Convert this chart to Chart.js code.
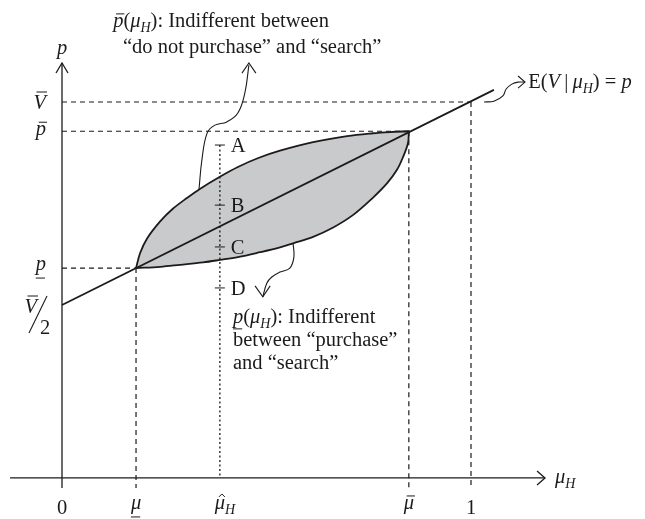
<!DOCTYPE html>
<html>
<head>
<meta charset="utf-8">
<script src="https://cdn.jsdelivr.net/npm/chart.js@4.4.1/dist/chart.umd.min.js"></script>
<style>
  body { margin: 0; background: #fff; }
  canvas { display: block; }
</style>
</head>
<body>
<canvas id="chart" width="645" height="519"></canvas>
<script>
// Points (x = mu_H, y = p, with V-bar = 1)
const upperMu = [0.181, 0.191, 0.208, 0.240, 0.271, 0.306, 0.337, 0.386, 0.430, 0.480, 0.533, 0.614, 0.697, 0.760, 0.802, 0.848];
const upperP  = [0.591, 0.628, 0.664, 0.706, 0.737, 0.764, 0.786, 0.816, 0.840, 0.862, 0.880, 0.901, 0.916, 0.923, 0.926, 0.928];
const lowerMu = [0.181, 0.240, 0.289, 0.345, 0.386, 0.430, 0.484, 0.533, 0.565, 0.614, 0.663, 0.712, 0.760, 0.795, 0.819, 0.834, 0.846, 0.848];
const lowerP  = [0.591, 0.594, 0.599, 0.605, 0.611, 0.618, 0.630, 0.642, 0.652, 0.668, 0.691, 0.722, 0.764, 0.800, 0.833, 0.865, 0.899, 0.928];
const eLineMu = [0, 1.056];
const eLineP  = [0.5, 1.030];

const muLow = 0.181, muHat = 0.386, muBar = 0.848, muOne = 1;
const pLow = 0.591, pBar = 0.928, vBar = 1.0, vHalf = 0.5;
const muAxisMin = -0.127, muAxisMax = 1.181, pAxis = 0.074, pAxisTop = 1.096, pGuideBottom = 0.049;

const markLabels = ['A', 'B', 'C', 'D'];
const markP = [0.894, 0.746, 0.643, 0.542];

// callout squiggles and their arrow heads
const upCalloutMu = [0.335, 0.342, 0.355, 0.374, 0.403, 0.430, 0.447, 0.457];
const upCalloutP  = [0.785, 0.857, 0.924, 0.943, 0.951, 0.973, 1.022, 1.091];
const upArrowMu = [0.440, 0.457, 0.474];
const upArrowP  = [1.071, 1.096, 1.071];
const lowCalloutMu = [0.565, 0.567, 0.557, 0.533, 0.513, 0.501, 0.491];
const lowCalloutP  = [0.652, 0.618, 0.591, 0.581, 0.569, 0.554, 0.520];
const lowArrowMu = [0.472, 0.491, 0.509];
const lowArrowP  = [0.547, 0.520, 0.547];
const eCalloutMu = [1.032, 1.056, 1.078, 1.086, 1.100, 1.115, 1.132];
const eCalloutP  = [1.000, 1.002, 1.015, 1.032, 1.044, 1.049, 1.049];
const eArrowMu = [1.115, 1.132, 1.115];
const eArrowP  = [1.064, 1.049, 1.034];

const INK = '#1d1a1b';
const SHADE = '#c9cacc';
const FONT = '"Liberation Serif", "Times New Roman", serif';
const SIZE = 20.5, SUB = 14;

const pts = (mus, ps) => mus.map((m, i) => ({ x: m, y: ps[i] }));
const seg = (ax, ay, bx, by) => [{ x: ax, y: ay }, { x: bx, y: by }];

function stroke(data, extra) {
    return Object.assign({
        data: data, showLine: true, pointRadius: 0, borderColor: INK,
        borderWidth: 1.2, fill: false, tension: 0, clip: false
    }, extra || {});
}

const dash = { borderDash: [5, 4], borderWidth: 1.2 };
const lens = pts(upperMu, upperP).concat(pts(lowerMu, lowerP).reverse());

// small rich-text helper: italic, subscripts, bars, underlines, hats
function drawRich(ctx, px, py, runs, align) {
    const fontOf = r => (r.it ? 'italic ' : '') + (r.sub ? SUB : SIZE) + 'px ' + FONT;
    let total = 0;
    runs.forEach(r => { ctx.font = fontOf(r); r.w = ctx.measureText(r.t).width; total += r.w; });
    let cx = align === 'right' ? px - total : align === 'center' ? px - total / 2 : px;
    runs.forEach(r => {
        ctx.font = fontOf(r);
        const by = py + (r.sub ? 5 : 0);
        ctx.fillText(r.t, cx, by);
        const sh = r.it ? 2 : 0;
        ctx.beginPath();
        if (r.bar) { ctx.moveTo(cx + sh + 1, by - r.bar); ctx.lineTo(cx + r.w + sh - 1, by - r.bar); }
        if (r.under) { ctx.moveTo(cx, by + r.under); ctx.lineTo(cx + r.w - 1, by + r.under); }
        if (r.hat) {
            const m = cx + r.w / 2 + sh;
            ctx.moveTo(m - 3, by - r.hat + 3); ctx.lineTo(m, by - r.hat); ctx.lineTo(m + 3, by - r.hat + 3);
        }
        ctx.stroke();
        cx += r.w;
    });
}

const overlay = {
    id: 'overlay',
    afterDatasetsDraw(chart) {
        const { ctx, scales: { x, y } } = chart;
        const X = v => x.getPixelForValue(v);
        const Y = v => y.getPixelForValue(v);
        ctx.save();
        ctx.fillStyle = INK;
        ctx.strokeStyle = INK;
        ctx.textBaseline = 'alphabetic';

        // arrow heads on the axes
        ctx.lineWidth = 1.3;
        ctx.beginPath();
        const xt = X(muAxisMax), yt = Y(pAxis);
        ctx.moveTo(xt - 8, yt - 7); ctx.lineTo(xt, yt); ctx.lineTo(xt - 8, yt + 7);
        const yx = X(0), yy = Y(pAxisTop);
        ctx.moveTo(yx - 6, yy + 10); ctx.lineTo(yx, yy); ctx.lineTo(yx + 6, yy + 10);
        ctx.stroke();

        // ticks A-D on the dotted line
        ctx.lineWidth = 1;
        ctx.beginPath();
        markP.forEach(p => { ctx.moveTo(X(muHat) - 5, Y(p)); ctx.lineTo(X(muHat) + 5, Y(p)); });
        ctx.stroke();
        ctx.font = SIZE + 'px ' + FONT;
        ctx.textAlign = 'left';
        markLabels.forEach((l, i) => ctx.fillText(l, X(muHat) + 11, Y(markP[i]) + 7));

        // axis names
        drawRich(ctx, X(0), Y(pAxisTop) - 9, [{ t: 'p', it: true }], 'center');
        drawRich(ctx, X(muAxisMax) + 10, Y(pAxis) + 5, [{ t: 'μ', it: true }, { t: 'H', it: true, sub: true }], 'left');

        // y labels
        const yl = X(0) - 16;
        drawRich(ctx, yl, Y(vBar) + 7, [{ t: 'V', it: true, bar: 17 }], 'right');
        drawRich(ctx, yl, Y(pBar) + 4, [{ t: 'p', it: true, bar: 13 }], 'right');
        drawRich(ctx, yl, Y(pLow) + 2, [{ t: 'p', it: true, under: 8 }], 'right');
        drawRich(ctx, X(0) - 25, Y(vHalf) + 8, [{ t: 'V', it: true, bar: 17 }], 'right');
        ctx.lineWidth = 1.1;
        ctx.beginPath();
        ctx.moveTo(X(0) - 33, Y(vHalf) + 28); ctx.lineTo(X(0) - 15, Y(vHalf) - 9);
        ctx.stroke();
        ctx.font = SIZE + 'px ' + FONT;
        ctx.textAlign = 'left';
        ctx.fillText('2', X(0) - 22, Y(vHalf) + 29);

        // x labels
        const xb = Y(pAxis) + 36;
        ctx.textAlign = 'center';
        ctx.font = SIZE + 'px ' + FONT;
        ctx.fillText('0', X(0), xb);
        ctx.fillText('1', X(muOne), xb);
        ctx.textAlign = 'left';
        ctx.lineWidth = 1;
        drawRich(ctx, X(muLow), xb - 5, [{ t: 'μ', it: true, under: 8 }], 'center');
        drawRich(ctx, X(muBar), xb - 5, [{ t: 'μ', it: true, bar: 13 }], 'center');
        ctx.font = 'italic ' + SIZE + 'px ' + FONT;
        const mw = ctx.measureText('μ').width;
        drawRich(ctx, X(muHat) - mw / 2, xb - 5, [{ t: 'μ', it: true, hat: 15 }, { t: 'H', it: true, sub: true }], 'left');

        // notes
        drawRich(ctx, X(0.125), Y(1.185), [{ t: 'p', it: true, bar: 13 }, { t: '(' }, { t: 'μ', it: true }, { t: 'H', it: true, sub: true }, { t: '): Indifferent between' }], 'left');
        drawRich(ctx, X(0.149), Y(1.121), [{ t: '“do not purchase” and “search”' }], 'left');
        drawRich(ctx, X(0.418), Y(0.456), [{ t: 'p', it: true, under: 6 }, { t: '(' }, { t: 'μ', it: true }, { t: 'H', it: true, sub: true }, { t: '): Indifferent' }], 'left');
        drawRich(ctx, X(0.418), Y(0.399), [{ t: 'between “purchase”' }], 'left');
        drawRich(ctx, X(0.418), Y(0.342), [{ t: 'and “search”' }], 'left');
        drawRich(ctx, X(1.140), Y(1.034), [{ t: 'E(' }, { t: 'V', it: true }, { t: '\u2009|\u2009' }, { t: 'μ', it: true }, { t: 'H', it: true, sub: true }, { t: ') = ' }, { t: 'p', it: true }], 'left');
        ctx.restore();
    }
};

new Chart(document.getElementById('chart'), {
    type: 'scatter',
    data: {
        datasets: [
            stroke(pts(eLineMu, eLineP), { borderWidth: 1.8 }),
            stroke(pts(upCalloutMu, upCalloutP), { tension: 0.4, borderWidth: 1.1 }),
            stroke(pts(upArrowMu, upArrowP), { borderWidth: 1.1 }),
            stroke(pts(lowCalloutMu, lowCalloutP), { tension: 0.4, borderWidth: 1.1 }),
            stroke(pts(lowArrowMu, lowArrowP), { borderWidth: 1.1 }),
            stroke(pts(eCalloutMu, eCalloutP), { tension: 0.4, borderWidth: 1.1 }),
            stroke(pts(eArrowMu, eArrowP), { borderWidth: 1.1 }),
            stroke(seg(muHat, markP[0], muHat, pAxis), { borderDash: [2, 2.5], borderWidth: 1.3 }),
            stroke(seg(0, vBar, muOne, vBar), dash),
            stroke(seg(0, pBar, muBar, pBar), dash),
            stroke(seg(0, pLow, muLow, pLow), dash),
            stroke(seg(muLow, pLow, muLow, pGuideBottom), dash),
            stroke(seg(muBar, pBar, muBar, pGuideBottom), dash),
            stroke(seg(muOne, vBar, muOne, pGuideBottom), dash),
            stroke(seg(muAxisMin, pAxis, muAxisMax, pAxis), { borderWidth: 1.3 }),
            stroke(seg(0, pGuideBottom, 0, pAxisTop), { borderWidth: 1.3 }),
            stroke(lens, { fill: 'shape', backgroundColor: SHADE, borderWidth: 1.8, tension: 0.35 })
        ]
    },
    options: {
        responsive: false,
        animation: false,
        events: [],
        layout: { padding: 0 },
        plugins: { legend: { display: false }, tooltip: { enabled: false } },
        scales: {
            x: { type: 'linear', min: -62 / 409, max: 583 / 409, display: false },
            y: { type: 'linear', min: 0.5 - 214 / 406, max: 0.5 + 305 / 406, display: false }
        }
    },
    plugins: [overlay]
});
</script>
</body>
</html>
